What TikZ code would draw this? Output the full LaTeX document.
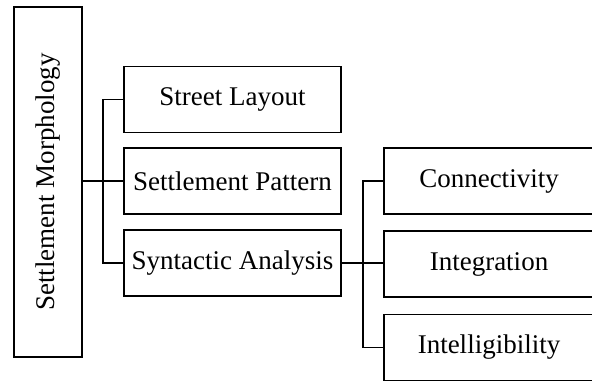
\documentclass[tikz,border=0pt]{standalone}
\usepackage{fontspec}
\setmainfont{Liberation Serif}
\begin{document}
\begin{tikzpicture}[x=1pt,y=-1pt,
  box/.style={draw=black,line width=1.9pt,fill=white,inner sep=0pt,font=\fontsize{27}{30}\selectfont},
  link/.style={draw=black,line width=1.9pt}]
\useasboundingbox (0,0) rectangle (592,383);
\node[box,minimum width=68pt,minimum height=350pt] (root) at (48,182) {};
\node[rotate=90,font=\fontsize{27}{30}\selectfont] (rootlbl) at (48,182) {Settlement Morphology};
\node[box,minimum width=217pt,minimum height=66pt] (street) at (232.5,99.5) {Street Layout};
\node[box,minimum width=217pt,minimum height=66pt] (pattern) at (232.5,181) {Settlement Pattern};
\node[box,minimum width=217pt,minimum height=66pt] (syn) at (232.5,263) {Syntactic Analysis};
\node[box,minimum width=210pt,minimum height=66pt] (conn) at (489,181) {Connectivity};
\node[box,minimum width=210pt,minimum height=66pt] (integ) at (489,264) {Integration};
\node[box,minimum width=210pt,minimum height=66pt] (intel) at (489,347.5) {Intelligibility};
\coordinate (busL) at (103,0);
\coordinate (busR) at (363,0);
\draw[link] (root.east |- pattern.west) -- (pattern.west);
\draw[link] (street.west) -- (busL |- street.west) -- (busL |- syn.west) -- (syn.west);
\draw[link] (syn.east) -- (integ.west |- syn.east);
\draw[link] (conn.west) -- (busR |- conn.west) -- (busR |- intel.west) -- (intel.west);
\end{tikzpicture}
\end{document}
